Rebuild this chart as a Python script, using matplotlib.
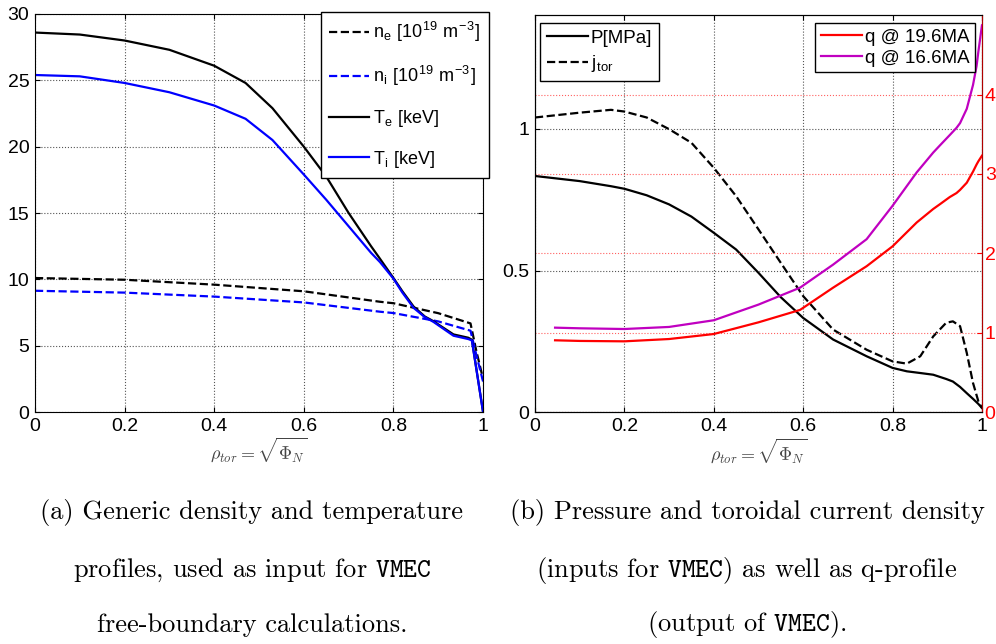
import numpy as np
import matplotlib
matplotlib.use('Agg')
import matplotlib.pyplot as plt

plt.rcParams['font.family'] = ['Liberation Sans', 'DejaVu Sans']
plt.rcParams['mathtext.fontset'] = 'cm'

# (a) density / temperature profiles
rho_a = [0.0, 0.1, 0.2, 0.3, 0.4, 0.47, 0.53, 0.6, 0.65, 0.7, 0.75, 0.77, 0.8,
         0.82, 0.845, 0.87, 0.889, 0.934, 0.967, 0.975, 1.0]
Te = [28.6, 28.45, 28.0, 27.3, 26.1, 24.8, 22.9, 20.0, 17.75, 15.0, 12.5, 11.55, 10.1,
      9.1, 7.95, 7.2, 6.85, 5.85, 5.6, 5.45, 0.0]
Ti = [25.4, 25.3, 24.8, 24.1, 23.1, 22.1, 20.5, 17.9, 16.0, 14.0, 12.0, 11.3, 10.05,
      9.0, 7.85, 7.15, 6.8, 5.75, 5.5, 5.4, 0.0]

rho_n = [0.0, 0.2, 0.4, 0.6, 0.77, 0.8, 0.9, 0.972, 0.985, 1.0]
ne = [10.1, 9.97, 9.6, 9.1, 8.31, 8.2, 7.45, 6.68, 4.6, 2.5]
ni = [9.14, 9.0, 8.7, 8.26, 7.56, 7.46, 6.83, 6.13, 4.3, 2.3]

# (b) pressure, current density, q profiles
rho_b = [0.0, 0.1, 0.17, 0.2, 0.25, 0.3, 0.35, 0.4, 0.45, 0.5, 0.55, 0.6, 0.667,
         0.742, 0.8, 0.832, 0.862, 0.891, 0.92, 0.935, 0.951, 0.966, 0.98, 0.992, 1.0]
P = [0.833, 0.815, 0.797, 0.788, 0.765, 0.733, 0.69, 0.633, 0.574, 0.492, 0.406,
     0.333, 0.257, 0.198, 0.157, 0.145, 0.139, 0.133, 0.118, 0.109, 0.09, 0.068,
     0.048, 0.03, 0.016]
jtor = [1.039, 1.056, 1.066, 1.06, 1.039, 0.998, 0.95, 0.862, 0.762, 0.645, 0.527,
        0.41, 0.292, 0.221, 0.18, 0.172, 0.198, 0.268, 0.316, 0.321, 0.304, 0.21,
        0.104, 0.039, 0.016]

rho_q = [0.045, 0.1, 0.2, 0.3, 0.4, 0.5, 0.593, 0.667, 0.742, 0.8, 0.854, 0.891,
         0.906, 0.928, 0.943, 0.951, 0.966, 0.98, 0.988, 0.992, 1.0]
q196 = [0.908, 0.90, 0.895, 0.924, 0.987, 1.134, 1.29, 1.57, 1.84, 2.09, 2.39, 2.56,
        2.62, 2.71, 2.76, 2.80, 2.89, 3.03, 3.12, 3.16, 3.23]
q166 = [1.067, 1.059, 1.05, 1.076, 1.16, 1.357, 1.57, 1.86, 2.18, 2.6, 3.02, 3.27,
        3.36, 3.49, 3.58, 3.64, 3.82, 4.12, 4.36, 4.54, 4.87]

purple = '#c000c0'
tick_fs = 14
xlab = r'$\rho_{tor} = \sqrt{\Phi_N}$'
ticks_x = [0, 0.2, 0.4, 0.6, 0.8, 1]
ticks_x_lab = ['0', '0.2', '0.4', '0.6', '0.8', '1']

fig = plt.figure(figsize=(9.96, 6.44), dpi=100)

# ---- panel (a)
ax1 = fig.add_axes([0.0351, 0.3602, 0.4499, 0.6181])
ax1.plot(rho_n, ne, 'k--', lw=1.6, label=r'n$_\mathregular{e}$ [10$^\mathregular{19}$ m$^\mathregular{-3}$]')
ax1.plot(rho_n, ni, 'b--', lw=1.6, label=r'n$_\mathregular{i}$ [10$^\mathregular{19}$ m$^\mathregular{-3}$]')
ax1.plot(rho_a, Te, 'k-', lw=1.6, label=r'T$_\mathregular{e}$ [keV]')
ax1.plot(rho_a, Ti, 'b-', lw=1.6, label=r'T$_\mathregular{i}$ [keV]')
ax1.set_xlim(0, 1)
ax1.set_ylim(0, 30)
ax1.set_xticks(ticks_x)
ax1.set_xticklabels(ticks_x_lab)
ax1.set_yticks(range(0, 31, 5))
ax1.grid(True, ls=':', color='#555555', lw=0.8)
ax1.tick_params(direction='in', top=True, right=True, labelsize=tick_fs, pad=4)
ax1.set_xlabel(xlab, fontsize=13, color='#444444', labelpad=1)
fig.legend(handles=ax1.get_lines(), loc='upper left',
           bbox_to_anchor=(321 / 996, 1 - 12 / 644), fontsize=13,
           frameon=True, fancybox=False, edgecolor='k', framealpha=1,
           handlelength=2.2, handletextpad=0.25, labelspacing=1.1,
           borderpad=0.45, borderaxespad=0)

# ---- panel (b)
ax2 = fig.add_axes([0.5371, 0.3595, 0.4488, 0.6172])
l1, = ax2.plot(rho_b, P, 'k-', lw=1.6, label='P[MPa]')
l2, = ax2.plot(rho_b, jtor, 'k--', lw=1.6, label=r'j$_\mathregular{tor}$')
ax2.set_xlim(0, 1)
ax2.set_ylim(0, 1.4)
ax2.set_xticks(ticks_x)
ax2.set_xticklabels(ticks_x_lab)
ax2.set_yticks([0, 0.5, 1])
ax2.set_yticklabels(['0', '0.5', '1'])
ax2.grid(True, ls=':', color='#555555', lw=0.8)
ax2.tick_params(direction='in', top=True, labelsize=tick_fs, pad=4)
ax2.set_xlabel(xlab, fontsize=13, color='#444444', labelpad=1)

ax3 = ax2.twinx()
l3, = ax3.plot(rho_q, q196, color='red', lw=1.6, label='q @ 19.6MA')
l4, = ax3.plot(rho_q, q166, color=purple, lw=1.6, label='q @ 16.6MA')
ax3.set_ylim(0, 5)
ax3.set_yticks([0, 1, 2, 3, 4])
ax3.tick_params(direction='in', colors='red', labelsize=tick_fs, pad=2)
ax3.spines['right'].set_color('#b00000')
ax3.grid(True, axis='y', ls=':', color='#ff6060', lw=0.8)

fig.legend(handles=[l1, l2], loc='upper left',
           bbox_to_anchor=(540 / 996, 1 - 23 / 644), fontsize=13.5,
           frameon=True, fancybox=False, edgecolor='k', framealpha=1,
           handlelength=2.2, handletextpad=0.15, labelspacing=0.35,
           borderpad=0.35, borderaxespad=0)
fig.legend(handles=[l3, l4], loc='upper right',
           bbox_to_anchor=(975 / 996, 1 - 23 / 644), fontsize=13.5,
           frameon=True, fancybox=False, edgecolor='k', framealpha=1,
           handlelength=2.2, handletextpad=0.15, labelspacing=0.2,
           borderpad=0.3, borderaxespad=0)

# ---- captions
cap_a = ['(a) Generic density and temperature',
         r'profiles, used as input for $\mathtt{VMEC}$',
         'free-boundary calculations.']
cap_b = ['(b) Pressure and toroidal current density',
         r'(inputs for $\mathtt{VMEC}$) as well as q-profile',
         r'(output of $\mathtt{VMEC}$).']
cap_y = [513, 570, 625]
for line_a, line_b, yy in zip(cap_a, cap_b, cap_y):
    fig.text(252 / 996, 1 - yy / 644, line_a, family='cmr10', fontsize=19,
             ha='center', va='center')
    fig.text(747 / 996, 1 - yy / 644, line_b, family='cmr10', fontsize=19,
             ha='center', va='center')

fig.savefig('out.png', dpi=100)
